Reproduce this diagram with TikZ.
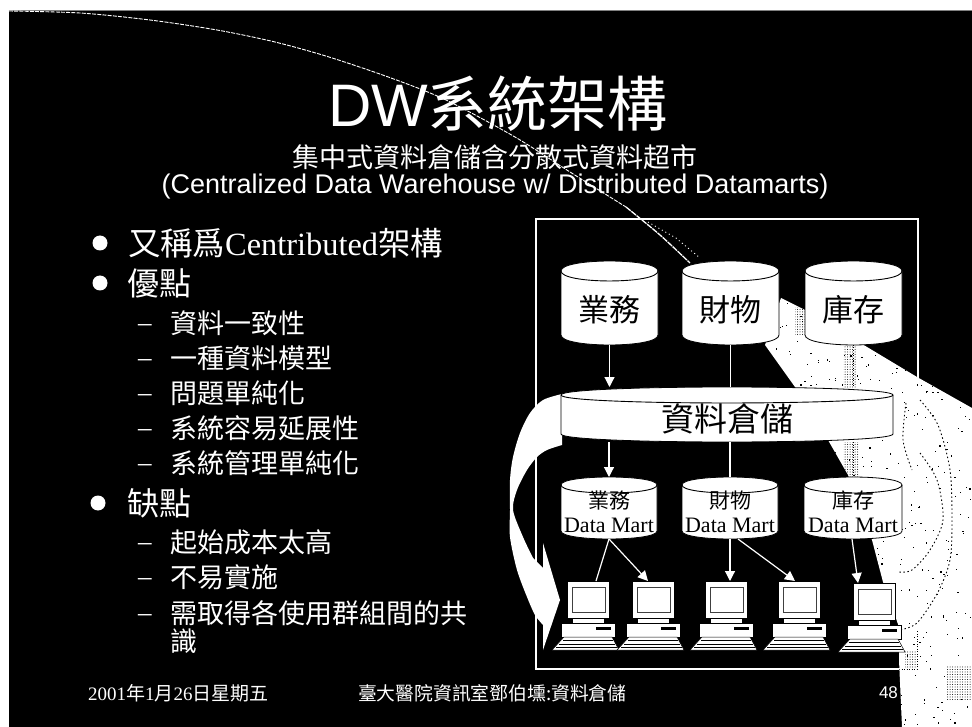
\documentclass[tikz,border=0pt]{standalone}
\usepackage{fontspec}
\setmainfont{Liberation Serif}
\newfontfamily\cjk{Noto Sans CJK TC}
\newfontfamily\arial{Liberation Sans}
\usetikzlibrary{arrows.meta,patterns.meta}
\newcommand{\fsz}[1]{\fontsize{#1}{#1}\selectfont}
\tikzset{
  txt/.style={anchor=west,inner sep=0pt,outer sep=0pt,text=white},
  ctxt/.style={inner sep=0pt,outer sep=0pt,text=white},
  inbox/.style={inner sep=0pt,outer sep=0pt,text=black},
  bull/.style={circle,fill=white,minimum size=15pt,inner sep=0pt},
  boxarea/.style={rectangle,inner sep=0pt,outer sep=0pt},
  conn/.style={draw=white,line width=1.2pt},
  arr/.style={draw=white,line width=1.2pt,-{Triangle[width=10pt,length=10pt,fill=white]}},
  ghost/.style={draw=black,line width=.8pt,dash pattern=on 1pt off 1.5pt},
  dither/.style={pattern={Dots[distance=2.5pt,radius=.5pt]},pattern color=black},
}
% name, xl, xr, ytop, ybottom, ry
\newcommand{\cyl}[6]{%
  \path[fill=white,draw=black,line width=.8pt]
    ({#2},{#4+#6}) .. controls ({#2},{#4-0.33*#6}) and ({#3},{#4-0.33*#6}) .. ({#3},{#4+#6})
    -- ({#3},{#5-#6}) .. controls ({#3},{#5+0.33*#6}) and ({#2},{#5+0.33*#6}) .. ({#2},{#5-#6}) -- cycle;
  \draw[black,line width=.9pt]
    ({#2},{#4+#6}) .. controls ({#2},{#4+2.33*#6}) and ({#3},{#4+2.33*#6}) .. ({#3},{#4+#6});
  \node[boxarea,minimum width={(#3-(#2))*1pt},minimum height={(#5-(#4))*1pt}] (#1) at ({(#2+#3)/2},{(#4+#5)/2}) {};
}
% name, x of monitor left, y of monitor top
\newcommand{\pc}[3]{%
  \begin{scope}[shift={(#2,#3)}]
    \fill[white,draw=black,line width=.5pt] (5,37) rectangle (37,43);
    \fill[white,draw=black,line width=.5pt] (-6,42) rectangle (48,56);
    \fill[black] (29,46) rectangle (44,49);
    \fill[white,draw=black,line width=.5pt] (-3,56) -- (45,56) -- (52,69) -- (-15,69) -- cycle;
    \draw[black,line width=1pt] (-4,59) -- (46,59) (-8,63) -- (48,63) (-11,66) -- (50,66);
    \node[boxarea,fill=white,draw=black,line width=.5pt,minimum width=42pt,minimum height=37pt] (#1) at (21,18.5) {};
    \draw[black!75,line width=1pt] (5,6) rectangle (38,31);
  \end{scope}
}
\begin{document}
\begin{tikzpicture}[x=1pt,y=-1pt]
\useasboundingbox (0,0) rectangle (972,727);
% slide ground
\fill[white] (0,0) rectangle (972,727);
\fill[black] (8.5,10) rectangle (972,727);
\draw[black!50,line width=.8pt] (8.5,10) -- (972,10);
% frame
\node[boxarea,draw=white,line width=1.2pt,minimum width=382pt,minimum height=450pt] (frame) at (727,444) {};
% swept line
\draw[white,line width=.9pt,dash pattern=on 4pt off 1.2pt]
  plot[smooth] coordinates {(9,11) (80,13) (150,20) (217,30) (275,42) (329,57) (391,78) (446,100) (515,137) (570,172) (626,207)};
\draw[white,line width=1.3pt,dash pattern=on 6pt off .8pt]
  plot[smooth] coordinates {(626,207) (660,235) (690,263)};
\draw[white,line width=.9pt,dash pattern=on 1pt off 3pt] (648,222) -- (676,238) -- (700,258);
% right sweep
\begin{scope}
  \clip (781,298) -- (805,310) -- (867,347) -- (917,377) -- (972,408) -- (972,727) -- (902,727)
        -- (899,660) -- (899,627) -- (883,582) -- (872,540) -- (848,475) -- (828,440) -- (795,387) -- (765,345) -- cycle;
  \fill[white] (760,290) rectangle (972,727);
  \pgfmathsetseed{11}
  \foreach \i in {1,...,520}{
    \pgfmathsetmacro{\ax}{765+rnd*207}
    \pgfmathsetmacro{\ay}{295+rnd*432}
    \fill[black] (\ax,\ay) rectangle ++(1.2,1.2);
  }
  \fill[dither] (795,308) rectangle (805,336);
  \fill[dither] (843,345) rectangle (856,388);
  \fill[dither] (843,442) rectangle (858,476);
  \fill[dither] (947,665) rectangle (972,700);
  \fill[dither] (905,650) rectangle (916,668);
  \draw[black,line width=.9pt,dash pattern=on 1.5pt off 2.5pt]
    plot[smooth] coordinates {(920,400) (938,425) (950,470) (952,520) (950,560) (938,592) (917,623) (899,630)};
  \draw[black,line width=.9pt,dash pattern=on 1.5pt off 2.5pt]
    plot[smooth] coordinates {(906,403) (903,440) (912,470)};
  \draw[black,line width=.9pt,dash pattern=on 1.5pt off 2.5pt]
    plot[smooth] coordinates {(920,453) (937,480) (943,520) (930,550) (912,570) (899,572)};
  \draw[black,line width=.9pt,dash pattern=on 1pt off 1.5pt] (899,669) -- (917,669) -- (917,630);
\end{scope}
% left curved arrow
\fill[white] plot[smooth] coordinates {(562,394) (543,400) (530,413) (520,433) (513,457) (510,480) (510,510) (510,537) (517,570) (527,597) (535,615) (543,625)}
  -- (543,650) -- (560,600) -- (543,543) -- (543,568)
  -- plot[smooth] coordinates {(533,558) (523,537) (513,510) (517,490) (527,470) (537,457) (547,450) (562,445)}
  -- (562,430) -- cycle;
% source databases
\cyl{sa}{561}{658}{261}{345}{10}
\cyl{sb}{682}{779}{261}{345}{10}
\cyl{sc}{805}{902}{261}{345}{10}
\node[inbox,font=\cjk\fsz{31}] (sat) at (609.5,310) {業務};
\node[inbox,font=\cjk\fsz{31}] (sbt) at (730.5,310) {財物};
\node[inbox,font=\cjk\fsz{31}] (sct) at (853.5,310) {庫存};
% warehouse
\cyl{wh}{561}{893}{387}{442}{8}
\node[inbox,font=\cjk\fsz{33}] (wht) at (727,419) {資料倉儲};
% data marts
\cyl{da}{561}{657}{477}{539}{8}
\cyl{db}{682}{778}{477}{539}{8}
\cyl{dc}{804}{902}{477}{539}{8}
\node[inbox,font=\cjk\fsz{21}] (dat) at (609,501) {業務};
\node[inbox,font=\cjk\fsz{21}] (dbt) at (730,501) {財物};
\node[inbox,font=\cjk\fsz{21}] (dct) at (853,501) {庫存};
\node[inbox,font=\fsz{22}] (dal) at (609,525) {Data Mart};
\node[inbox,font=\fsz{22}] (dbl) at (730,525) {Data Mart};
\node[inbox,font=\fsz{22}] (dcl) at (853,525) {Data Mart};
% computers
\pc{pa}{567}{581}
\pc{pb}{632}{581}
\pc{pc}{705}{581}
\pc{pd}{778}{581}
\pc{pe}{853}{583}
% connectors
\draw[arr] (sa.south) -- (sa.south |- wh.north);
\draw[conn] (sb.south) -- (sb.south |- wh.north);
\draw[ghost] (sc.south) -- (sc.south |- wh.north);
\draw[arr] (da.north |- wh.south) -- (da.north);
\draw[conn] (db.north |- wh.south) -- (db.north);
\draw[ghost] (dc.north |- wh.south) -- (dc.north);
\draw[conn] (da.south) -- ([xshift=8pt]pa.north);
\draw[arr] (da.south) -- ([xshift=-5pt]pb.north);
\draw[arr] (db.south) -- ([xshift=4pt]pc.north);
\draw[arr] ([xshift=8pt]db.south) -- ([xshift=-4pt]pd.north);
\draw[arr] ([xshift=-1pt]dc.south) -- ([xshift=-16pt]pe.north);
% title
\node[ctxt] (title) at (498,104) {\fsz{60}\arial DW\cjk 系統架構};
\node[ctxt,font=\cjk\fsz{27}] (subA) at (495,157) {集中式資料倉儲含分散式資料超市};
\node[ctxt,font=\arial\fsz{27}] (subB) at (495,187) {(Centralized Data Warehouse w/ Distributed Datamarts)};
% list
\node[bull] (b1) at (100,243) {};
\node[bull] (b2) at (100,283) {};
\node[bull] (b3) at (98,503) {};
\node[txt,font=\fsz{32.4}] (l1) at (128,243) {{\cjk 又稱爲}Centributed{\cjk 架構}};
\node[txt,font=\cjk\fsz{32}] (l2) at (127,283) {優點};
\node[txt,font=\cjk\fsz{32}] (l3) at (127,503) {缺點};
\foreach \nm/\yy/\tx in {a/323/資料一致性,b/358/一種資料模型,c/393/問題單純化,d/428/系統容易延展性,e/463/系統管理單純化,f/542/起始成本太高,g/577/不易實施,h/613/需取得各使用群組間的共,i/641/識}{
  \node[txt,font=\cjk\fsz{27}] (s\nm) at (170,\yy) {\tx};
}
\foreach \nm/\yy in {a/328,b/363,c/398,d/433,e/468,f/547,g/582,h/618}{
  \node[txt,font=\fsz{27}] (dash\nm) at (138,\yy) {–};
}
% footer
\node[txt,font=\fsz{19}] (fa) at (88,693) {2001{\cjk 年}1{\cjk 月}26{\cjk 日星期五}};
\node[txt,font=\cjk\fsz{18.8}] (fb) at (358,693) {臺大醫院資訊室鄧伯壎:資料倉儲};
\node[txt,font=\arial\fsz{17}] (fc) at (879,693) {48};
\end{tikzpicture}
\end{document}
